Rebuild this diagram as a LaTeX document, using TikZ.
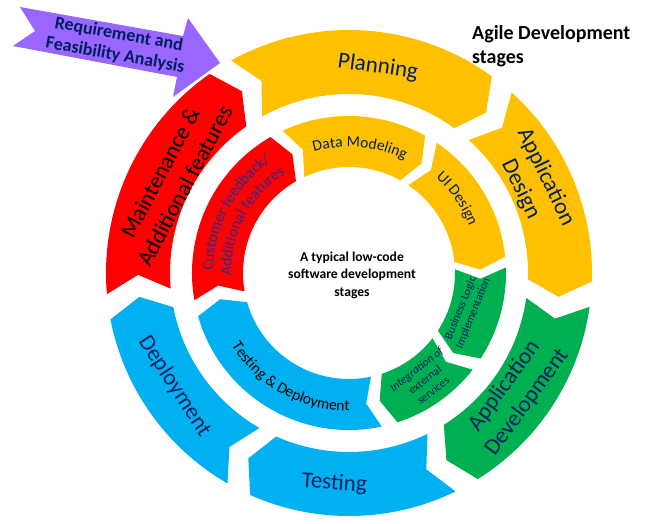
\documentclass[tikz,border=0pt]{standalone}
\usepackage{fontspec}
\setmainfont{Carlito}
\usepackage{xcolor}
\usetikzlibrary{decorations.text}
\definecolor{agileyellow}{HTML}{FFC000}
\definecolor{agilegreen}{HTML}{00B050}
\definecolor{agileblue}{HTML}{00B0F0}
\definecolor{agilered}{HTML}{FF0000}
\definecolor{reqpurple}{HTML}{9966FF}
\definecolor{lblnavy}{HTML}{002060}
\definecolor{feedbackblue}{HTML}{2A2A8C}
\newcommand{\arcseg}[6]{\fill[fill=#1] (#2:#5) arc[start angle=#2, end angle=#3, radius=#5] -- ({#3-#6}:{(#4+#5)/2}) -- (#3:#4) arc[start angle=#3, end angle=#2, radius=#4] -- ({#2-#6}:{(#4+#5)/2}) -- cycle;}
\newcommand{\arctext}[5]{\path[decorate, decoration={text along path, text align=center, text={|#1|#2}}] (#4:#3) arc[start angle=#4, end angle=#5, radius=#3];}
\newcommand{\innerfont}{\fontsize{15.5}{18}\selectfont}

\begin{document}
\begin{tikzpicture}[x=1pt,y=1pt]
		\tikzset{outerlbl/.style={font=\fontsize{23}{28}\selectfont, text=lblnavy, align=center},
			innerlbl/.style={font=\fontsize{11.5}{13.5}\selectfont, text=lblnavy, align=center}}
		\useasboundingbox (-349,-250) rectangle (300,273);
		
		\foreach \col/\s/\e in {agileyellow/119/54, agileyellow/48/-2, agilegreen/-8/-58, agileblue/-64/-114, agileblue/-120/-169, agilered/185/125}
			\arcseg{\col}{\s}{\e}{179}{243}{4.5};
		\foreach \col/\s/\e in {agileyellow/115/61, agileyellow/56/6, agilegreen/2/-33, agilegreen/-38/-72, agileblue/-78/-164, agilered/190/120}
			\arcseg{\col}{\s}{\e}{106}{157}{4.5};
		
		\fill[reqpurple] (-329,266) -- (-166,237) -- (-161,255) -- (-129,210) -- (-176,176) -- (-172,196) -- (-336,227) -- (-314,242) -- cycle;
		\node (req) at (-232,228) [rotate=-10, font=\bfseries\fontsize{18}{21}\selectfont, text=lblnavy, align=center] {Requirement and\\Feasibility Analysis};
		
		\node (plan) at (82:208) [outerlbl, rotate=-8] {Planning};
		\node (design) at (26:205) [outerlbl, rotate=-64] {Application\\Design};
		\node (develop) at (-36:206) [outerlbl, rotate=54] {Application\\Development};
		\node (test) at (-94:211) [outerlbl, rotate=-4] {Testing};
		\node (deploy) at (-147:208) [outerlbl, rotate=-57] {Deployment};
		\node (maint) at (152:200) [outerlbl, text=black, rotate=62] {Maintenance \&\\Additional features};
		
		\arctext{\innerfont\color{lblnavy}}{Data Modeling}{126}{125}{45}
		\arctext{\innerfont\color{lblnavy}}{UI Design}{129}{74.5}{-5.5}
		\arctext{\innerfont}{Testing {\&} Deployment}{138}{-169}{-69}
		\arctext{\innerfont\color{feedbackblue}}{Customer feedback/}{136}{192}{112}
		\arctext{\innerfont\color{feedbackblue}}{Additional features}{118}{192}{112}
		\node (logic) at (-17.7:124) [innerlbl, rotate=68] {Business Logic\\Implementation};
		\node (integ) at (-54.6:131) [innerlbl, rotate=38] {\textit{Integration of}\\external\\services};
		
		\node (core) at (3,-2) [font=\bfseries\fontsize{13.6}{17.5}\selectfont, align=center] {A typical low-code\\software development\\stages};
		\node (agile) at (123,248) [anchor=north west, inner sep=0, font=\bfseries\fontsize{20}{24}\selectfont, align=left] {Agile Development\\stages};
\end{tikzpicture}
\end{document}
